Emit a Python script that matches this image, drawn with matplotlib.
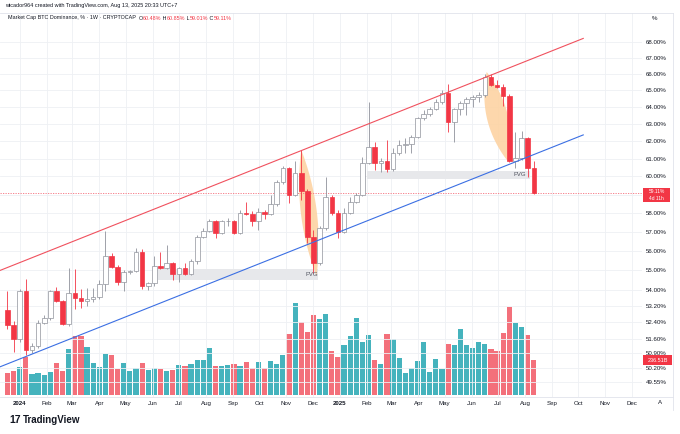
import numpy as np
import pandas as pd
import matplotlib
matplotlib.use("Agg")
import matplotlib.pyplot as plt
from matplotlib.patches import Rectangle, Polygon
from matplotlib.ticker import FixedLocator, NullLocator

plt.rcParams["font.family"] = ["Liberation Sans", "DejaVu Sans"]

# --- Données : BTC.D hebdo (1W), première bougie le 18 déc. 2023 ---
start = pd.Timestamp("2023-12-18")

opens = [53.00, 52.27, 51.58, 53.96, 51.07, 51.23, 52.37, 52.59, 53.96, 53.46,
         52.32, 53.83, 53.61, 53.46, 53.56, 53.63, 54.30, 55.73, 55.18, 54.39,
         54.89, 54.96, 55.95, 54.20, 54.34, 55.22, 55.10, 55.36, 54.81, 55.10,
         54.81, 55.44, 56.74, 57.05, 57.54, 56.92, 57.54, 57.57, 56.92, 58.02,
         57.95, 57.54, 58.05, 57.95, 58.49, 59.70, 60.46, 58.98, 60.18, 59.22,
         56.74, 55.36, 57.18, 58.89, 58.02, 57.00, 57.98, 58.61, 58.96, 60.74,
         61.65, 60.74, 60.87, 60.40, 61.31, 61.78, 61.86, 62.26, 63.33, 63.57,
         63.86, 64.32, 64.82, 63.13, 63.86, 64.22, 64.46, 64.62, 64.74, 65.83,
         65.32, 65.22, 64.66, 60.89, 61.02, 62.17, 60.48]
highs = [53.96, 52.45, 54.05, 54.54, 51.39, 52.52, 52.76, 54.00, 54.16, 53.50,
         55.13, 55.05, 54.03, 54.08, 54.08, 54.50, 57.04, 55.90, 55.27, 55.01,
         55.02, 56.13, 56.08, 54.40, 55.70, 55.95, 56.30, 55.43, 55.16, 55.36,
         55.58, 56.83, 57.18, 57.68, 57.63, 57.63, 57.72, 57.62, 58.16, 58.61,
         58.11, 58.26, 58.16, 58.98, 59.81, 60.59, 60.53, 60.89, 61.50, 59.30,
         57.09, 57.31, 59.96, 58.98, 58.16, 58.26, 58.85, 59.10, 61.11, 64.32,
         61.97, 61.02, 62.07, 61.59, 62.07, 62.17, 62.36, 63.41, 63.82, 64.02,
         64.46, 65.02, 65.38, 63.94, 64.38, 64.58, 64.72, 64.92, 65.99, 65.99,
         65.63, 65.38, 64.78, 62.55, 62.61, 62.24, 60.85]
lows = [52.08, 50.99, 51.45, 50.84, 50.93, 51.17, 52.30, 52.50, 53.40, 52.25,
        52.22, 53.04, 53.10, 53.17, 53.41, 53.52, 53.96, 55.10, 54.25, 53.96,
        54.80, 54.90, 54.03, 53.98, 54.20, 55.05, 55.05, 54.50, 54.37, 54.75,
        54.75, 55.32, 56.67, 57.00, 56.65, 56.85, 57.31, 56.85, 56.85, 57.89,
        57.31, 57.09, 57.66, 57.89, 58.38, 59.60, 58.56, 58.90, 58.71, 56.39,
        54.84, 55.27, 57.10, 57.89, 56.65, 56.95, 57.92, 58.54, 58.90, 60.70,
        60.37, 60.27, 60.25, 60.30, 61.21, 61.34, 61.34, 62.20, 63.25, 63.45,
        63.80, 64.18, 62.55, 61.97, 63.53, 63.53, 64.02, 64.32, 64.60, 65.26,
        65.12, 64.08, 60.80, 60.46, 60.93, 59.99, 59.01]
closes = [52.27, 51.58, 53.96, 51.07, 51.23, 52.37, 52.59, 53.96, 53.46, 52.32,
          53.83, 53.61, 53.46, 53.56, 53.63, 54.30, 55.73, 55.18, 54.39, 54.89,
          54.96, 55.95, 54.20, 54.34, 55.22, 55.10, 55.36, 54.81, 55.10, 54.81,
          55.44, 56.74, 57.05, 57.54, 56.92, 57.54, 57.57, 56.92, 58.02, 57.95,
          57.54, 58.05, 57.95, 58.49, 59.70, 60.46, 58.98, 60.18, 59.22, 56.74,
          55.36, 57.18, 58.89, 58.02, 57.00, 57.98, 58.61, 58.96, 60.74, 61.65,
          60.74, 60.87, 60.40, 61.31, 61.78, 61.86, 62.26, 63.33, 63.57, 63.86,
          64.32, 64.82, 63.13, 63.86, 64.22, 64.46, 64.62, 64.74, 65.83, 65.32,
          65.22, 64.66, 60.89, 61.02, 62.17, 60.48, 59.11]
# volume en milliards (B)
volume_b = [152, 164, 193, 261, 145, 150, 136, 159, 220, 164,
            316, 402, 404, 329, 220, 193, 277, 273, 179, 216,
            164, 186, 216, 170, 186, 175, 164, 170, 204, 196,
            211, 239, 239, 322, 200, 200, 204, 209, 200, 225,
            186, 227, 184, 232, 213, 273, 416, 627, 496, 429,
            547, 516, 552, 302, 257, 339, 404, 525, 361, 411,
            237, 209, 416, 380, 252, 150, 182, 232, 361, 157,
            243, 179, 346, 341, 448, 339, 318, 361, 348, 316,
            302, 423, 602, 493, 466, 411, 236.51]

price_ticks = [68, 67, 66, 65, 64, 63, 62, 61, 60, 59, 58, 57, 56, 55, 54,
               53.20, 52.40, 51.60, 50.90, 50.20, 49.55]

# dessins : canal, FVG, arcs (index de bougie, prix)
red_channel = [(-1.225, 54.98), (94.08, 68.21)]
blue_channel = [(-1.225, 50.27), (94.08, 62.36)]
fvg_boxes = [(24.6, 50.7, 54.50, 55.05), (58.7, 85.4, 59.88, 60.29)]
fvg_labels = [(49.7, 54.76), (83.7, 60.08)]
arcs = [((48.0, 61.50), (50.5, 54.70), 8), ((78.3, 66.11), (81.8, 60.83), 10.5)]

RED = "#f23645"
TXT = "#131722"
W, H = 680, 434

o = np.array(opens); h = np.array(highs); l = np.array(lows); c = np.array(closes)
n = len(o)
idx = np.arange(n)
up = c >= o

fig = plt.figure(figsize=(W / 100, H / 100), dpi=100)
fig.patch.set_facecolor("white")

def fx(px):
    return px / W

def fy(py):
    return 1 - py / H

pane = [0, fy(397), fx(642), (397 - 13) / H]
axv = fig.add_axes(pane)
ax = fig.add_axes(pane, sharex=axv)
ax.patch.set_alpha(0)

# --- volume ---
vcol = np.where(up, "#45b3bd", "#f3707b")
axv.bar(idx, volume_b, width=0.85, color=vcol, linewidth=0)
axv.set_ylim(-13.6, 2604)
axv.set_yticks([])
for s in axv.spines.values():
    s.set_visible(False)
axv.tick_params(axis="x", length=0, labelbottom=False)

# --- axes prix ---
ax.set_yscale("log")
ax.set_xlim(-1.225, 103.68)
ax.set_ylim(48.88, 69.84)
ax.yaxis.set_major_locator(FixedLocator(price_ticks))
ax.yaxis.set_minor_locator(NullLocator())
ax.set_yticklabels([f"{v:.2f}%" for v in price_ticks])
ax.yaxis.tick_right()
ax.tick_params(axis="y", length=0, pad=2.5, labelsize=4.4, colors=TXT)

months = pd.date_range("2024-01-01", "2025-12-01", freq="MS")
mpos = (months - start).days / 7.0
mlab = [str(m.year) if m.month == 1 else m.strftime("%b") for m in months]
ax.set_xticks(mpos)
ax.set_xticklabels(mlab)
ax.tick_params(axis="x", length=0, pad=3, labelsize=4.4, colors=TXT)
for t, m in zip(ax.get_xticklabels(), months):
    if m.month == 1:
        t.set_fontweight("bold")
ax.grid(True, color="#eef0f4", linewidth=0.6)
ax.set_axisbelow(True)
for s in ax.spines.values():
    s.set_visible(False)

# --- FVG ---
for (x0, x1, y0, y1), (tx, ty) in zip(fvg_boxes, fvg_labels):
    ax.add_patch(Rectangle((x0, y0), x1 - x0, y1 - y0, facecolor="#e7e8eb",
                           edgecolor="none", zorder=1))
    ax.text(tx, ty, "FVG", fontsize=4.4, color="#50535e", ha="center",
            va="center", zorder=5)

# --- arcs orange ---
def lens(a, b, half_w):
    pa = ax.transData.transform([a])[0]
    pb = ax.transData.transform([b])[0]
    mid = (pa + pb) / 2
    d = pb - pa
    nrm = np.array([-d[1], d[0]]) / np.hypot(*d)
    t = np.linspace(0, 1, 50)[:, None]
    pts = []
    for sgn in (1, -1):
        cp = mid + sgn * nrm * 2 * half_w
        pts.append((1 - t) ** 2 * pa + 2 * t * (1 - t) * cp + t ** 2 * pb)
    poly = np.vstack([pts[0], pts[1][::-1]])
    ax.add_patch(Polygon(ax.transData.inverted().transform(poly), closed=True,
                         facecolor="#fdd3a3", edgecolor="none", alpha=0.9,
                         zorder=1.5))

for a, b, hw in arcs:
    lens(a, b, hw)

# --- bougies ---
wick_col = np.where(up, "#8f929b", RED)
ax.vlines(idx, l, h, colors=wick_col, linewidth=0.6, zorder=3)
body_lo = np.minimum(o, c)
body_h = np.maximum(np.abs(c - o), 0.03)
ax.bar(idx, body_h, bottom=body_lo, width=0.75,
       color=np.where(up, "white", RED),
       edgecolor=np.where(up, "#8f929b", RED), linewidth=0.5, zorder=3.5)

# --- canal ---
ax.plot(*zip(*red_channel), color="#f0515e", linewidth=0.8, zorder=4)
ax.plot(*zip(*blue_channel), color="#3b6fe3", linewidth=0.8, zorder=4)

# ligne du dernier prix
ax.axhline(closes[-1], color="#f5707c", linestyle=(0, (1.5, 1.5)), linewidth=0.6, zorder=2)

# --- cadre et textes ---
for y in (13, 397):
    fig.add_artist(plt.Line2D([0, fx(673)], [fy(y), fy(y)], color="#e0e3eb",
                              linewidth=0.6))
fig.add_artist(plt.Line2D([fx(673), fx(673)], [fy(13), fy(410)], color="#e0e3eb",
                          linewidth=0.6))

fig.text(fx(5), fy(6), "wicador964 created with TradingView.com, Aug 13, 2025 20:33 UTC+7",
         fontsize=4.0, color=TXT, va="center")

renderer = fig.canvas.get_renderer()
pieces = [("Market Cap BTC Dominance, % \u00b7 1W \u00b7 CRYPTOCAP  ", TXT),
          ("O", TXT), ("60.48%", RED), (" H", TXT), ("60.85%", RED),
          (" L", TXT), ("59.01%", RED), (" C", TXT), ("59.11%", RED)]
xp = 8
for txt, col in pieces:
    t = fig.text(fx(xp), fy(18), txt, fontsize=3.9, color=col, va="center")
    xp += t.get_window_extent(renderer).width

fig.text(fx(652), fy(19), "%", fontsize=4.4, color=TXT, va="center")

# étiquettes rouges à droite
fig.add_artist(Rectangle((fx(643), fy(202)), fx(27), 14 / H, facecolor=RED,
                         edgecolor="none", transform=fig.transFigure))
fig.text(fx(656.5), fy(191.5), "59.11%", fontsize=3.5, color="white", ha="center", va="center")
fig.text(fx(656.5), fy(198.5), "4d 11h", fontsize=3.5, color="white", ha="center", va="center")
fig.add_artist(Rectangle((fx(643), fy(365)), fx(29), 10 / H, facecolor=RED,
                         edgecolor="none", transform=fig.transFigure))
fig.text(fx(657.5), fy(360), "236.51B", fontsize=4.0, color="white", ha="center", va="center")
fig.text(fx(660), fy(403), "A", fontsize=4.4, color=TXT, ha="center", va="center")

# logo
fig.text(fx(9), fy(420), "17", fontsize=7.5, fontweight="heavy", color=TXT, va="center")
fig.text(fx(23), fy(420), "TradingView", fontsize=7, fontweight="bold", color=TXT, va="center")

fig.savefig("out.png", dpi=100)
